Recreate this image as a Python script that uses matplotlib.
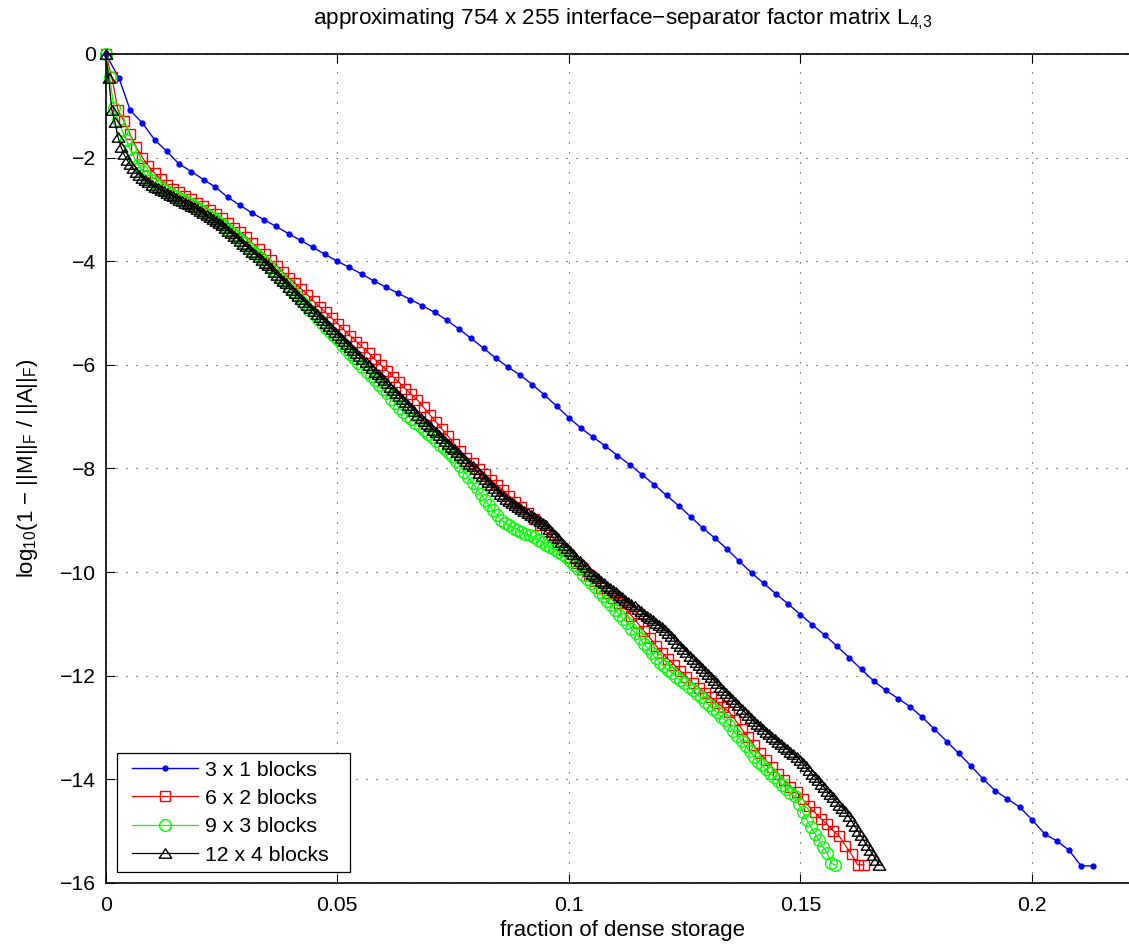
import matplotlib
matplotlib.use('Agg')
import matplotlib.pyplot as plt
from matplotlib.path import Path
from matplotlib.patches import Rectangle
from matplotlib.ticker import FuncFormatter

plt.rcParams['font.family'] = 'Liberation Sans'
plt.rcParams['font.size'] = 15.3
plt.rcParams['mathtext.fontset'] = 'custom'
plt.rcParams['mathtext.rm'] = 'Liberation Sans'
plt.rcParams['mathtext.it'] = 'Liberation Sans'
plt.rcParams['mathtext.bf'] = 'Liberation Sans:bold'
plt.rcParams['axes.linewidth'] = 1.2

# 3 x 1 blocks
x_3x1 = [0, 0.0029, 0.0053, 0.0079, 0.0106, 0.0132, 0.0158, 0.0185, 0.0212, 0.0237,
         0.0264, 0.029, 0.0316, 0.0342, 0.0368, 0.0395, 0.0421, 0.0447, 0.0474, 0.05,
         0.0526, 0.0553, 0.0579, 0.0605, 0.0632, 0.0658, 0.0684, 0.0711, 0.0737, 0.0763,
         0.0789, 0.0816, 0.0842, 0.0868, 0.0895, 0.0921, 0.0947, 0.0974, 0.1, 0.1026,
         0.1053, 0.1079, 0.1105, 0.1132, 0.1158, 0.1184, 0.1211, 0.1237, 0.1263, 0.1289,
         0.1316, 0.1342, 0.1368, 0.1395, 0.1421, 0.1447, 0.1474, 0.15, 0.1526, 0.1553,
         0.1579, 0.1605, 0.1632, 0.1658, 0.1684, 0.1711, 0.1737, 0.1763, 0.1789, 0.1816,
         0.1842, 0.1868, 0.1895, 0.1921, 0.1947, 0.1974, 0.2, 0.2028, 0.2054, 0.208,
         0.2106, 0.2132]
y_3x1 = [0, -0.47, -1.09, -1.33, -1.66, -1.88, -2.12, -2.27, -2.43, -2.57,
         -2.77, -2.92, -3.07, -3.2, -3.33, -3.47, -3.6, -3.73, -3.87, -4.0,
         -4.12, -4.25, -4.38, -4.5, -4.62, -4.74, -4.86, -4.99, -5.14, -5.31,
         -5.49, -5.68, -5.87, -6.04, -6.2, -6.38, -6.58, -6.8, -7.02, -7.22,
         -7.4, -7.57, -7.75, -7.93, -8.12, -8.31, -8.52, -8.72, -8.93, -9.15,
         -9.35, -9.56, -9.79, -10.02, -10.22, -10.42, -10.62, -10.82, -11.02, -11.22,
         -11.43, -11.65, -11.88, -12.1, -12.28, -12.44, -12.6, -12.8, -13.03, -13.27,
         -13.5, -13.74, -14.0, -14.22, -14.38, -14.54, -14.78, -15.06, -15.19, -15.37,
         -15.67, -15.67]

# 6 x 2 blocks
x_6x2 = [0, 0.00132, 0.00264, 0.00396, 0.00528, 0.0066, 0.00792, 0.00924, 0.01056, 0.01188,
         0.0132, 0.01452, 0.01584, 0.01716, 0.01848, 0.0198, 0.02112, 0.02244, 0.02376, 0.02508,
         0.0264, 0.02772, 0.02904, 0.03036, 0.03168, 0.033, 0.03432, 0.03564, 0.03696, 0.03828,
         0.0396, 0.04092, 0.04224, 0.04356, 0.04488, 0.0462, 0.04752, 0.04884, 0.05016, 0.05148,
         0.0528, 0.05412, 0.05544, 0.05676, 0.05808, 0.0594, 0.06072, 0.06204, 0.06336, 0.06468,
         0.066, 0.06732, 0.06864, 0.06996, 0.07128, 0.0726, 0.07392, 0.07524, 0.07656, 0.07788,
         0.0792, 0.08052, 0.08184, 0.08316, 0.08448, 0.0858, 0.08712, 0.08844, 0.08976, 0.09108,
         0.0924, 0.09372, 0.09504, 0.09636, 0.09768, 0.099, 0.10032, 0.10164, 0.10296, 0.10428,
         0.1056, 0.10692, 0.10824, 0.10956, 0.11088, 0.1122, 0.11352, 0.11484, 0.11616, 0.11748,
         0.1188, 0.12012, 0.12144, 0.12276, 0.12408, 0.1254, 0.12672, 0.12804, 0.12936, 0.13068,
         0.132, 0.13332, 0.13464, 0.13596, 0.13728, 0.1386, 0.13992, 0.14124, 0.14256, 0.14388,
         0.1452, 0.14652, 0.14784, 0.14916, 0.15048, 0.1518, 0.15312, 0.15444, 0.15576, 0.15708,
         0.1584, 0.15972, 0.16104, 0.16236, 0.16368]
y_6x2 = [0, -0.44, -1.08, -1.3, -1.55, -1.8, -2.0, -2.17, -2.3, -2.42,
         -2.52, -2.6, -2.67, -2.74, -2.8, -2.87, -2.94, -3.01, -3.09, -3.17,
         -3.26, -3.35, -3.44, -3.53, -3.65, -3.76, -3.87, -3.98, -4.09, -4.21,
         -4.32, -4.43, -4.54, -4.65, -4.77, -4.88, -4.99, -5.1, -5.21, -5.33,
         -5.44, -5.55, -5.66, -5.77, -5.89, -6.0, -6.11, -6.23, -6.34, -6.46,
         -6.57, -6.68, -6.82, -6.96, -7.1, -7.24, -7.38, -7.52, -7.66, -7.8,
         -7.9, -8.01, -8.11, -8.22, -8.32, -8.42, -8.53, -8.64, -8.75, -8.86,
         -8.97, -9.09, -9.21, -9.33, -9.46, -9.58, -9.7, -9.82, -9.94, -10.06,
         -10.18, -10.3, -10.4, -10.5, -10.6, -10.7, -10.84, -10.98, -11.13, -11.27,
         -11.42, -11.56, -11.68, -11.79, -11.91, -12.02, -12.14, -12.23, -12.33, -12.42,
         -12.52, -12.61, -12.7, -12.86, -13.02, -13.18, -13.34, -13.5, -13.63, -13.76,
         -13.89, -14.02, -14.15, -14.24, -14.38, -14.52, -14.64, -14.76, -14.87, -14.99,
         -15.1, -15.28, -15.45, -15.65, -15.65]

# 9 x 3 blocks
x_9x3 = [0, 0.00088, 0.00176, 0.00264, 0.00352, 0.0044, 0.00528, 0.00616, 0.00704, 0.00792,
         0.0088, 0.00968, 0.01056, 0.01144, 0.01232, 0.0132, 0.01408, 0.01496, 0.01584, 0.01672,
         0.0176, 0.01848, 0.01936, 0.02024, 0.02112, 0.022, 0.02288, 0.02376, 0.02464, 0.02552,
         0.0264, 0.02728, 0.02816, 0.02904, 0.02992, 0.0308, 0.03168, 0.03256, 0.03344, 0.03432,
         0.0352, 0.03608, 0.03696, 0.03784, 0.03872, 0.0396, 0.04048, 0.04136, 0.04224, 0.04312,
         0.044, 0.04488, 0.04576, 0.04664, 0.04752, 0.0484, 0.04928, 0.05016, 0.05104, 0.05192,
         0.0528, 0.05368, 0.05456, 0.05544, 0.05632, 0.0572, 0.05808, 0.05896, 0.05984, 0.06072,
         0.0616, 0.06248, 0.06336, 0.06424, 0.06512, 0.066, 0.06688, 0.06776, 0.06864, 0.06952,
         0.0704, 0.07128, 0.07216, 0.07304, 0.07392, 0.0748, 0.07568, 0.07656, 0.07744, 0.07832,
         0.0792, 0.08008, 0.08096, 0.08184, 0.08272, 0.0836, 0.08448, 0.08536, 0.08624, 0.08712,
         0.088, 0.08888, 0.08976, 0.09064, 0.09152, 0.0924, 0.09328, 0.09416, 0.09504, 0.09592,
         0.0968, 0.09768, 0.09856, 0.09944, 0.10032, 0.1012, 0.10208, 0.10296, 0.10384, 0.10472,
         0.1056, 0.10648, 0.10736, 0.10824, 0.10912, 0.11, 0.11088, 0.11176, 0.11264, 0.11352,
         0.1144, 0.11528, 0.11616, 0.11704, 0.11792, 0.1188, 0.11968, 0.12056, 0.12144, 0.12232,
         0.1232, 0.12408, 0.12496, 0.12584, 0.12672, 0.1276, 0.12848, 0.12936, 0.13024, 0.13112,
         0.132, 0.13288, 0.13376, 0.13464, 0.13552, 0.1364, 0.13728, 0.13816, 0.13904, 0.13992,
         0.1408, 0.14168, 0.14256, 0.14344, 0.14432, 0.1452, 0.14608, 0.14696, 0.14784, 0.14872,
         0.1496, 0.15048, 0.15136, 0.15224, 0.15312, 0.154, 0.15488, 0.15576, 0.15664, 0.15752]
y_9x3 = [0, -0.44, -1.05, -1.27, -1.47, -1.66, -1.83, -2.0, -2.14, -2.26,
         -2.36, -2.44, -2.5, -2.55, -2.6, -2.65, -2.7, -2.74, -2.78, -2.82,
         -2.86, -2.9, -2.94, -2.99, -3.04, -3.1, -3.15, -3.2, -3.26, -3.32,
         -3.39, -3.45, -3.52, -3.59, -3.65, -3.72, -3.8, -3.87, -3.94, -4.02,
         -4.1, -4.18, -4.26, -4.34, -4.43, -4.51, -4.6, -4.68, -4.77, -4.85,
         -4.94, -5.02, -5.11, -5.19, -5.28, -5.36, -5.45, -5.53, -5.62, -5.7,
         -5.79, -5.87, -5.96, -6.04, -6.13, -6.21, -6.3, -6.38, -6.47, -6.55,
         -6.65, -6.74, -6.83, -6.91, -6.98, -7.05, -7.12, -7.19, -7.26, -7.33,
         -7.4, -7.47, -7.54, -7.61, -7.68, -7.75, -7.86, -7.96, -8.07, -8.17,
         -8.28, -8.38, -8.49, -8.6, -8.7, -8.8, -8.9, -9.0, -9.05, -9.1,
         -9.14, -9.18, -9.22, -9.26, -9.29, -9.33, -9.38, -9.42, -9.47, -9.52,
         -9.56, -9.61, -9.66, -9.71, -9.79, -9.87, -9.95, -10.05, -10.13, -10.21,
         -10.29, -10.38, -10.47, -10.55, -10.64, -10.73, -10.82, -10.9, -10.99, -11.09,
         -11.18, -11.28, -11.38, -11.47, -11.57, -11.66, -11.76, -11.82, -11.89, -11.95,
         -12.02, -12.08, -12.15, -12.21, -12.28, -12.35, -12.42, -12.5, -12.57, -12.64,
         -12.71, -12.79, -12.86, -12.96, -13.06, -13.16, -13.26, -13.36, -13.46, -13.56,
         -13.66, -13.73, -13.81, -13.88, -13.96, -14.03, -14.11, -14.18, -14.26, -14.33,
         -14.48, -14.63, -14.78, -14.92, -15.05, -15.18, -15.3, -15.42, -15.62, -15.65]

# 12 x 4 blocks
x_12x4 = [0, 0.00066, 0.00132, 0.00198, 0.00264, 0.0033, 0.00396, 0.00462, 0.00528, 0.00594,
          0.0066, 0.00726, 0.00792, 0.00858, 0.00924, 0.0099, 0.01056, 0.01122, 0.01188, 0.01254,
          0.0132, 0.01386, 0.01452, 0.01518, 0.01584, 0.0165, 0.01716, 0.01782, 0.01848, 0.01914,
          0.0198, 0.02046, 0.02112, 0.02178, 0.02244, 0.0231, 0.02376, 0.02442, 0.02508, 0.02574,
          0.0264, 0.02706, 0.02772, 0.02838, 0.02904, 0.0297, 0.03036, 0.03102, 0.03168, 0.03234,
          0.033, 0.03366, 0.03432, 0.03498, 0.03564, 0.0363, 0.03696, 0.03762, 0.03828, 0.03894,
          0.0396, 0.04026, 0.04092, 0.04158, 0.04224, 0.0429, 0.04356, 0.04422, 0.04488, 0.04554,
          0.0462, 0.04686, 0.04752, 0.04818, 0.04884, 0.0495, 0.05016, 0.05082, 0.05148, 0.05214,
          0.0528, 0.05346, 0.05412, 0.05478, 0.05544, 0.0561, 0.05676, 0.05742, 0.05808, 0.05874,
          0.0594, 0.06006, 0.06072, 0.06138, 0.06204, 0.0627, 0.06336, 0.06402, 0.06468, 0.06534,
          0.066, 0.06666, 0.06732, 0.06798, 0.06864, 0.0693, 0.06996, 0.07062, 0.07128, 0.07194,
          0.0726, 0.07326, 0.07392, 0.07458, 0.07524, 0.0759, 0.07656, 0.07722, 0.07788, 0.07854,
          0.0792, 0.07986, 0.08052, 0.08118, 0.08184, 0.0825, 0.08316, 0.08382, 0.08448, 0.08514,
          0.0858, 0.08646, 0.08712, 0.08778, 0.08844, 0.0891, 0.08976, 0.09042, 0.09108, 0.09174,
          0.0924, 0.09306, 0.09372, 0.09438, 0.09504, 0.0957, 0.09636, 0.09702, 0.09768, 0.09834,
          0.099, 0.09966, 0.10032, 0.10098, 0.10164, 0.1023, 0.10296, 0.10362, 0.10428, 0.10494,
          0.1056, 0.10626, 0.10692, 0.10758, 0.10824, 0.1089, 0.10956, 0.11022, 0.11088, 0.11154,
          0.1122, 0.11286, 0.11352, 0.11418, 0.11484, 0.1155, 0.11616, 0.11682, 0.11748, 0.11814,
          0.1188, 0.11946, 0.12012, 0.12078, 0.12144, 0.1221, 0.12276, 0.12342, 0.12408, 0.12474,
          0.1254, 0.12606, 0.12672, 0.12738, 0.12804, 0.1287, 0.12936, 0.13002, 0.13068, 0.13134,
          0.132, 0.13266, 0.13332, 0.13398, 0.13464, 0.1353, 0.13596, 0.13662, 0.13728, 0.13794,
          0.1386, 0.13926, 0.13992, 0.14058, 0.14124, 0.1419, 0.14256, 0.14322, 0.14388, 0.14454,
          0.1452, 0.14586, 0.14652, 0.14718, 0.14784, 0.1485, 0.14916, 0.14982, 0.15048, 0.15114,
          0.1518, 0.15246, 0.15312, 0.15378, 0.15444, 0.1551, 0.15576, 0.15642, 0.15708, 0.15774,
          0.1584, 0.15906, 0.15972, 0.16038, 0.16104, 0.1617, 0.16236, 0.16302, 0.16368, 0.16434,
          0.165, 0.16566, 0.16632, 0.16698]
y_12x4 = [0, -0.47, -1.08, -1.31, -1.6, -1.79, -1.94, -2.05, -2.13, -2.21,
          -2.27, -2.33, -2.39, -2.44, -2.48, -2.52, -2.56, -2.59, -2.62, -2.65,
          -2.69, -2.72, -2.75, -2.78, -2.81, -2.84, -2.87, -2.9, -2.93, -2.96,
          -2.99, -3.03, -3.07, -3.11, -3.15, -3.19, -3.23, -3.27, -3.31, -3.36,
          -3.41, -3.46, -3.51, -3.56, -3.61, -3.66, -3.71, -3.76, -3.82, -3.87,
          -3.92, -3.97, -4.03, -4.08, -4.14, -4.2, -4.26, -4.32, -4.38, -4.43,
          -4.49, -4.55, -4.61, -4.67, -4.73, -4.78, -4.84, -4.9, -4.96, -5.02,
          -5.08, -5.13, -5.19, -5.25, -5.31, -5.37, -5.43, -5.48, -5.54, -5.6,
          -5.66, -5.72, -5.78, -5.83, -5.89, -5.95, -6.01, -6.07, -6.13, -6.18,
          -6.24, -6.3, -6.36, -6.42, -6.48, -6.54, -6.6, -6.66, -6.72, -6.78,
          -6.84, -6.9, -6.96, -7.02, -7.08, -7.14, -7.19, -7.25, -7.3, -7.36,
          -7.41, -7.47, -7.52, -7.58, -7.63, -7.69, -7.74, -7.8, -7.85, -7.91,
          -7.96, -8.02, -8.08, -8.14, -8.2, -8.26, -8.32, -8.38, -8.44, -8.5,
          -8.54, -8.58, -8.62, -8.66, -8.7, -8.74, -8.78, -8.82, -8.86, -8.9,
          -8.94, -8.98, -9.02, -9.06, -9.1, -9.16, -9.22, -9.28, -9.35, -9.41,
          -9.47, -9.53, -9.6, -9.66, -9.72, -9.78, -9.84, -9.91, -9.97, -10.03,
          -10.08, -10.12, -10.17, -10.21, -10.26, -10.3, -10.35, -10.39, -10.44, -10.48,
          -10.53, -10.57, -10.62, -10.66, -10.71, -10.75, -10.8, -10.84, -10.89, -10.93,
          -10.98, -11.02, -11.06, -11.12, -11.18, -11.24, -11.3, -11.36, -11.42, -11.48,
          -11.54, -11.61, -11.67, -11.73, -11.79, -11.85, -11.91, -11.97, -12.03, -12.09,
          -12.15, -12.21, -12.27, -12.33, -12.39, -12.45, -12.51, -12.57, -12.64, -12.7,
          -12.76, -12.82, -12.88, -12.93, -12.98, -13.03, -13.08, -13.13, -13.18, -13.22,
          -13.27, -13.32, -13.37, -13.42, -13.47, -13.52, -13.57, -13.62, -13.69, -13.75,
          -13.82, -13.89, -13.95, -14.02, -14.09, -14.15, -14.22, -14.29, -14.35, -14.42,
          -14.49, -14.55, -14.62, -14.71, -14.8, -14.9, -14.99, -15.08, -15.18, -15.27,
          -15.36, -15.46, -15.55, -15.65]

xticks = [0, 0.05, 0.1, 0.15, 0.2]
yticks = [-16, -14, -12, -10, -8, -6, -4, -2, 0]

W, H = 1129, 948
fig = plt.figure(figsize=(W / 100, H / 100), dpi=100)
ax = fig.add_axes([0.0936, 0.0686, 0.9161, 0.8745])

# wide, flat triangle like the matlab marker
tri = Path([(-1, -0.75), (1, -0.75), (0, 0.75), (-1, -0.75)],
           [Path.MOVETO, Path.LINETO, Path.LINETO, Path.CLOSEPOLY])

l1, = ax.plot(x_3x1, y_3x1, color='b', lw=1.0, marker='o', ms=3.5, mfc='b', mec='b',
              label='3 x 1 blocks', clip_on=False)
l2, = ax.plot(x_6x2, y_6x2, color='r', lw=0.9, marker='s', ms=7.2, mfc='none', mec='r',
              mew=1.0, label='6 x 2 blocks', clip_on=False)
l3, = ax.plot(x_9x3, y_9x3, color=(0, 1, 0), lw=0.9, marker='o', ms=8.4, mfc='none',
              mec=(0, 1, 0), mew=1.0, label='9 x 3 blocks', clip_on=False)
l4, = ax.plot(x_12x4, y_12x4, color='k', lw=0.9, marker=tri, ms=9, mfc='none', mec='k',
              mew=1.0, label='12 x 4 blocks', clip_on=False)

ax.set_xlim(0, 0.2233)
ax.set_ylim(-16, 0)
ax.set_xticks(xticks)
ax.set_yticks(yticks)
ax.xaxis.set_major_formatter(FuncFormatter(lambda v, p: '%g' % v))
ax.yaxis.set_major_formatter(FuncFormatter(lambda v, p: ('%g' % v).replace('-', '\u2212')))
ax.tick_params(direction='in', top=True, right=True, length=6.5, width=0.8)
ax.tick_params(axis='x', pad=9.5)
ax.tick_params(axis='y', pad=7)
ax.grid(True, linestyle=(0, (1, 8)), lw=0.8, color='0.2')

ax.set_title('approximating 754 x 255 interface\u2212separator factor matrix L$_{4{,}3}$',
             pad=21, fontsize=16.2)
ax.set_xlabel('fraction of dense storage', labelpad=3.5, fontsize=16)
fig.text(28 / W, 1 - 468.5 / H,
         'log$_{10}$(1 \u2212 ||M||$_\\mathrm{F}$ / ||A||$_\\mathrm{F}$)',
         rotation=90, ha='center', va='center', fontsize=16)

# legend frame drawn as a plain box, entries placed inside it
ax.add_patch(Rectangle((117.3 / W, 1 - 871.7 / H), (350 - 117.3) / W, (871.7 - 753) / H,
                       transform=fig.transFigure, fc='w', ec='k', lw=0.9,
                       clip_on=False, zorder=4.9))
ax.legend(handles=[l1, l2, l3, l4], loc='center left',
          bbox_to_anchor=(131.7 / W, 1 - 812.6 / H), bbox_transform=fig.transFigure,
          frameon=False, borderaxespad=0, borderpad=0, handlelength=3.13,
          handletextpad=0.315, labelspacing=0.44)

fig.savefig('out.png', dpi=100)
